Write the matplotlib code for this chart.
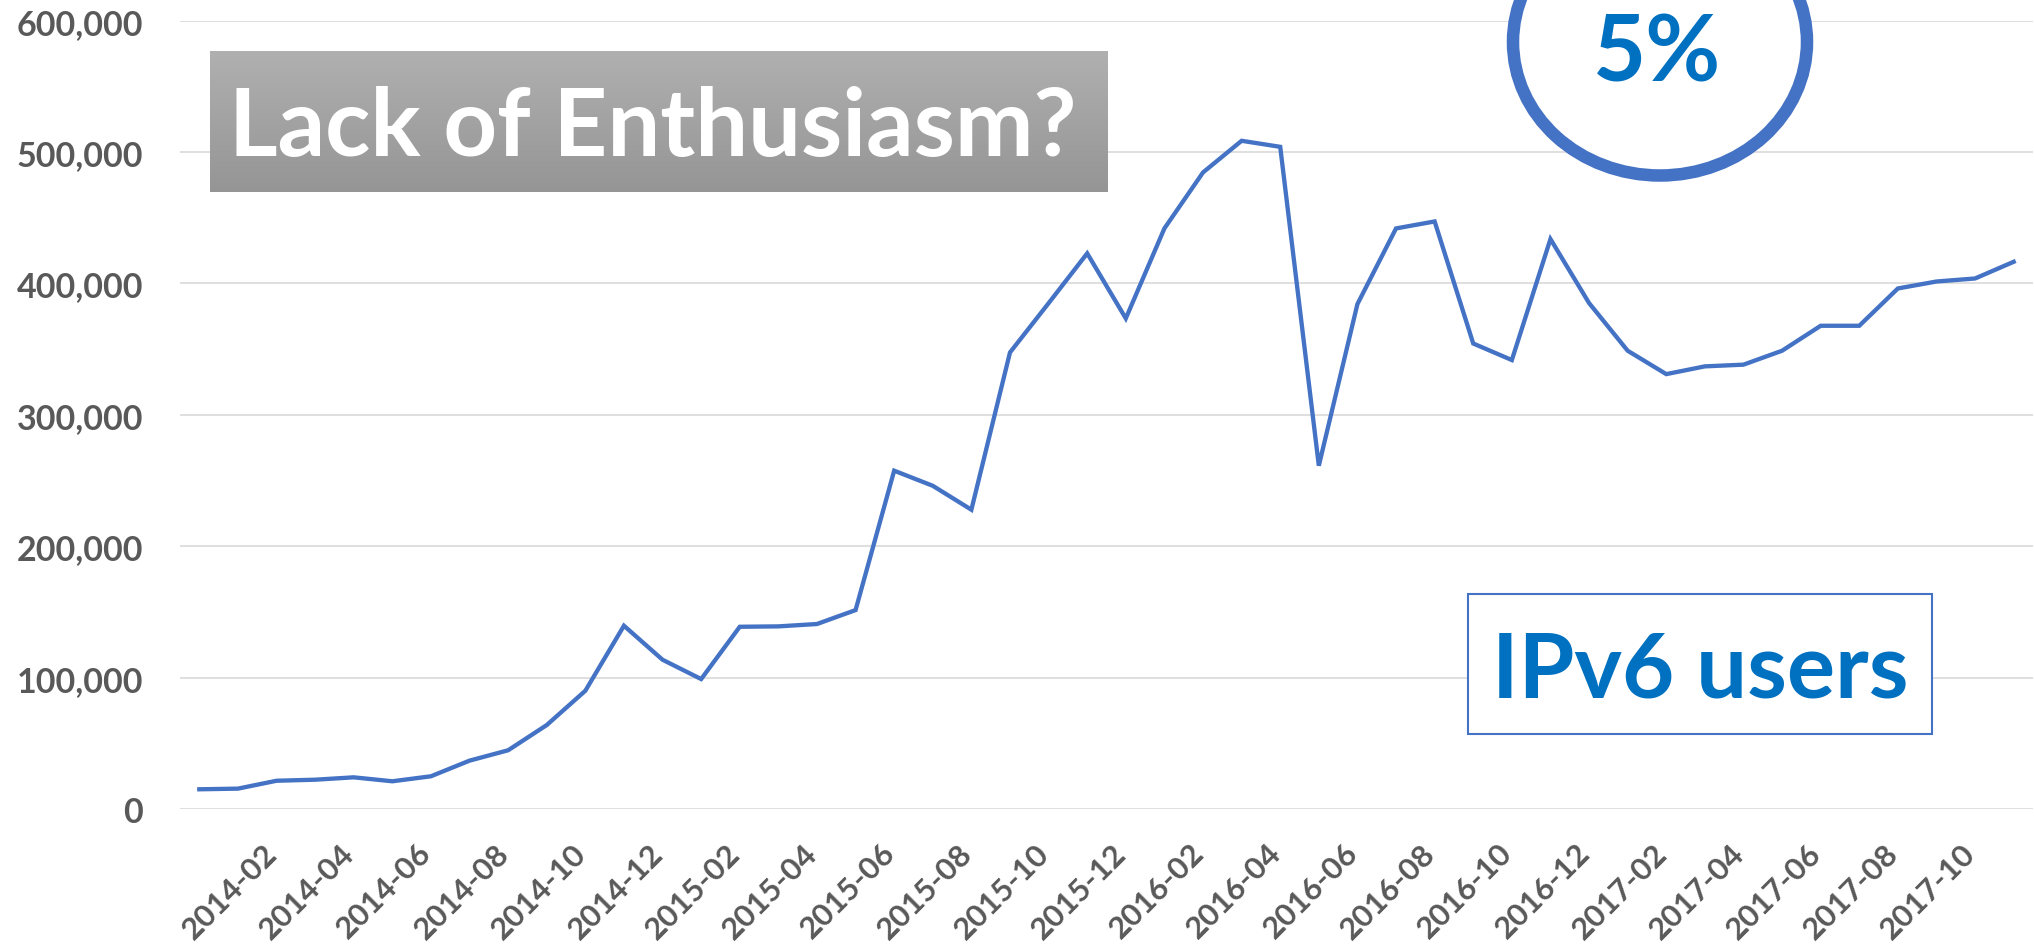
import matplotlib
matplotlib.use("Agg")
import matplotlib.pyplot as plt
import matplotlib.transforms as mtransforms
from matplotlib.patches import Ellipse, Rectangle
import numpy as np

plt.rcParams['font.family'] = ['Lato', 'DejaVu Sans']

# ---- data ----
months = [
    "2013-12",
    "2014-01", "2014-02", "2014-03", "2014-04", "2014-05", "2014-06",
    "2014-07", "2014-08", "2014-09", "2014-10", "2014-11", "2014-12",
    "2015-01", "2015-02", "2015-03", "2015-04", "2015-05", "2015-06",
    "2015-07", "2015-08", "2015-09", "2015-10", "2015-11", "2015-12",
    "2016-01", "2016-02", "2016-03", "2016-04", "2016-05", "2016-06",
    "2016-07", "2016-08", "2016-09", "2016-10", "2016-11", "2016-12",
    "2017-01", "2017-02", "2017-03", "2017-04", "2017-05", "2017-06",
    "2017-07", "2017-08", "2017-09", "2017-10", "2017-11",
]
ipv6_users = [
    15000, 15500, 21500, 22300, 24100, 21100, 24900, 36800, 44700, 63900,
    90000, 139500, 113600, 98900, 138700, 139000, 140800, 151400, 257500,
    246000, 227800, 347500, 385000, 422900, 373400, 441900, 484500, 508600,
    504000, 261300, 384300, 441900, 447200, 354300, 341700, 433800, 385100,
    348800, 331000, 336900, 338200, 348800, 367800, 367800, 396200, 401500,
    403800, 416500,
]
y_ticks = [0, 100000, 200000, 300000, 400000, 500000, 600000]
title_text = "Lack of Enthusiasm?"
circle_text = "5%"
box_text = "IPv6 users"

W, H = 2034, 953
DPI = 100
fig = plt.figure(figsize=(W / DPI, H / DPI), dpi=DPI)
fig.patch.set_facecolor("white")

# main axes in pixel geometry
ax_left, ax_right, ax_bottom_px, ax_top_px = 180, 2033, 810, 21.7
ax = fig.add_axes([ax_left / W, (H - ax_bottom_px) / H,
                   (ax_right - ax_left) / W, (ax_bottom_px - ax_top_px) / H])

x = np.arange(len(months))
ax.plot(x, ipv6_users, color="#4472C4", linewidth=3.1, solid_joinstyle="miter",
        zorder=3)
ax.set_xlim(-0.5, len(months) - 0.5)
ax.set_ylim(0, 600000)
ax.set_yticks(y_ticks)
ax.set_yticklabels([f"{v:,}" for v in y_ticks])
ax.grid(axis="y", color="#D9D9D9", linewidth=1.2)
ax.set_axisbelow(True)
for s in ax.spines.values():
    s.set_visible(False)

tick_idx = list(range(2, len(months), 2))
ax.set_xticks(tick_idx)
ax.set_xticklabels([months[i] for i in tick_idx])
ax.tick_params(axis="both", length=0, colors="#595959")
ax.tick_params(axis="y", pad=26.5, labelsize=24.5)
ax.tick_params(axis="x", pad=21, labelsize=22.5)
offset = mtransforms.ScaledTranslation(6 / DPI, 0, fig.dpi_scale_trans)
for lab in ax.get_xticklabels():
    lab.set_rotation(45)
    lab.set_ha("right")
    lab.set_va("top")
    lab.set_fontweight("bold")
    lab.set_transform(lab.get_transform() + offset)
for lab in ax.get_yticklabels():
    lab.set_fontweight("bold")

# ---- overlay annotations (pixel coordinates) ----
ov = fig.add_axes([0, 0, 1, 1], zorder=5)
ov.set_xlim(0, W)
ov.set_ylim(H, 0)
ov.axis("off")
ov.patch.set_alpha(0)

# grey gradient box
grad = np.linspace(0, 1, 256).reshape(-1, 1)
top_c = np.array([0.69, 0.69, 0.69])
bot_c = np.array([0.585, 0.585, 0.585])
img = top_c[None, None, :] * (1 - grad[:, :, None]) + bot_c[None, None, :] * grad[:, :, None]
ov.imshow(img, extent=(210, 1108, 193, 52), origin="upper", aspect="auto",
          interpolation="bilinear")
ov.text(229, 156, title_text, color="white", fontsize=67.5, fontweight="bold",
        ha="left", va="baseline")

# circle
ov.add_patch(Ellipse((1660, 43), 2 * 147, 2 * 133.5, facecolor="white",
                     edgecolor="#4472C4", linewidth=9.0, clip_on=False))
ov.text(1657, 81, circle_text, color="#0070C0", fontsize=66, fontweight="bold",
        ha="center", va="baseline")

# IPv6 users box
ov.add_patch(Rectangle((1468, 595), 464, 139.5, facecolor="white",
                       edgecolor="#4472C4", linewidth=1.5))
ov.text(1700, 698, box_text, color="#0070C0", fontsize=65, fontweight="bold",
        ha="center", va="baseline")

ov.set_xlim(0, W)
ov.set_ylim(H, 0)

fig.savefig("out.png", dpi=DPI, facecolor="white")
